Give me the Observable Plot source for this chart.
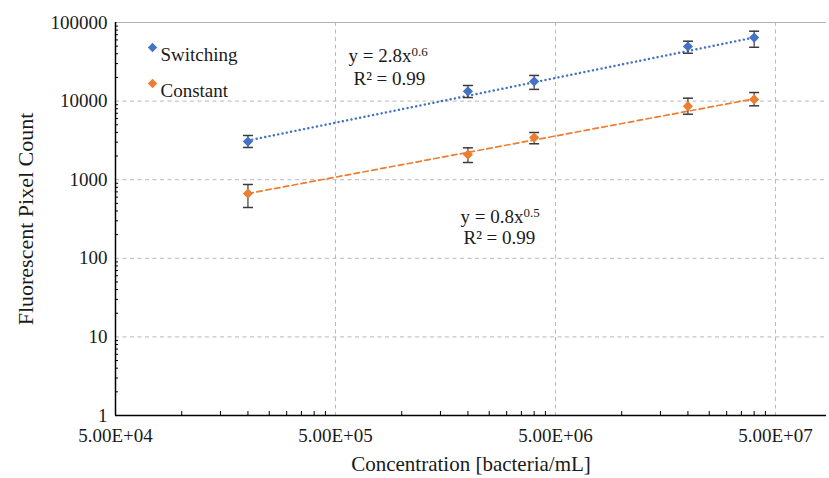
<!DOCTYPE html>
<html>
<head>
<meta charset="utf-8">
<script src="https://cdn.jsdelivr.net/npm/d3@7"></script>
<script src="https://cdn.jsdelivr.net/npm/@observablehq/plot@0.6"></script>
<style>
  html, body { margin: 0; padding: 0; background: #fff; }
  svg, svg text { font-family: "Liberation Serif", "Times New Roman", serif !important; }
</style>
</head>
<body>
<div id="chart"></div>
<script>
// ---- data ----
const concentrations = [2e5, 2e6, 4e6, 2e7, 4e7];
const switchingMean = [3060, 13300, 17800, 49500, 64400];
const switchingLow  = [2570, 11100, 14100, 40600, 48400];
const switchingHigh = [3650, 15800, 21200, 57800, 77500];
const constantMean  = [667, 2090, 3440, 8610, 10500];
const constantLow   = [443, 1655, 2865, 6810, 8710];
const constantHigh  = [869, 2545, 3985, 10890, 12860];
// trend lines (power fits drawn by the source, read at their two ends)
const trendX = [2e5, 4e7];
const switchingTrend = [3150, 64400];
const constantTrend = [667, 10700];
// axes
const xTicks = [5e4, 5e5, 5e6, 5e7];
const xTickLabels = ["5.00E+04", "5.00E+05", "5.00E+06", "5.00E+07"];
const yTicks = [1, 10, 100, 1000, 10000, 100000];
const yTickLabels = ["1", "10", "100", "1000", "10000", "100000"];
const seriesNames = ["Switching", "Constant"];
const seriesColors = ["#4472C4", "#ED7D31"];

const xMinor = [];
for (let d = 0; d < 4; d++) for (let k = 2; k <= 9; k++) {
  const v = 5e4 * Math.pow(10, d) * k;
  if (v < 8.5e7) xMinor.push(v);
}
const yMinor = [];
for (let d = 0; d < 5; d++) for (let k = 2; k <= 9; k++) yMinor.push(k * Math.pow(10, d));

const rows = [];
concentrations.forEach((c, i) => {
  rows.push({series: "Switching", x: c, y: switchingMean[i], lo: switchingLow[i], hi: switchingHigh[i]});
  rows.push({series: "Constant", x: c, y: constantMean[i], lo: constantLow[i], hi: constantHigh[i]});
});
const trendRows = {
  Switching: trendX.map((x, i) => ({x, y: switchingTrend[i]})),
  Constant: trendX.map((x, i) => ({x, y: constantTrend[i]}))
};

const cap = {
  draw(context, size) {
    const w = Math.sqrt(size / Math.PI);
    context.moveTo(-w, 0);
    context.lineTo(w, 0);
  }
};

const serif = "Liberation Serif";
const tickFont = 19;
const chart = Plot.plot({
  width: 829,
  height: 478,
  marginLeft: 115,
  marginRight: 3,
  marginTop: 22,
  marginBottom: 63,
  style: {fontFamily: serif, fontSize: "18px", color: "#1a1a1a", background: "#fff"},
  x: {type: "log", domain: [5e4, 8.53e7], axis: null},
  y: {type: "log", domain: [1, 1e5], axis: null},
  color: {domain: seriesNames, range: seriesColors},
  marks: [
    // grid
    Plot.gridX(xTicks.slice(1), {stroke: "#b8b8b8", strokeOpacity: 1, strokeDasharray: "4,3.5"}),
    Plot.gridY(yTicks.slice(1, 5), {stroke: "#b8b8b8", strokeOpacity: 1, strokeDasharray: "4,3.5"}),
    Plot.ruleY([1e5], {stroke: "#b0b0b0", strokeWidth: 1.2}),
    // minor ticks (inside)
    Plot.axisX(xMinor, {anchor: "bottom", tickSize: -4, tickFormat: () => "", label: null, stroke: "#000"}),
    Plot.axisY(yMinor, {anchor: "left", tickSize: -3, tickFormat: () => "", label: null, stroke: "#000"}),
    // major tick labels
    Plot.text(xTicks, {x: d => d, frameAnchor: "bottom", dy: 26, text: (d, i) => xTickLabels[i], fontSize: tickFont, fontFamily: serif}),
    Plot.text(yTicks, {y: d => d, frameAnchor: "left", dx: -8, textAnchor: "end", text: (d, i) => yTickLabels[i], fontSize: tickFont, fontFamily: serif}),
    // axis lines
    Plot.ruleX([5e4], {stroke: "#000", strokeWidth: 1.5}),
    Plot.ruleY([1], {stroke: "#000", strokeWidth: 1.5}),
    // trend lines
    Plot.line(trendRows.Switching, {x: "x", y: "y", stroke: seriesColors[0], strokeWidth: 2.4,
      strokeDasharray: "0.1,4.3", strokeLinecap: "round"}),
    Plot.line(trendRows.Constant, {x: "x", y: "y", stroke: seriesColors[1], strokeWidth: 1.7,
      strokeDasharray: "5.5,3.5"}),
    // error bars
    Plot.ruleX(rows, {x: "x", y1: "lo", y2: "hi", stroke: "#3a3a3a", strokeWidth: 1.2}),
    Plot.dot(rows, {x: "x", y: "lo", symbol: cap, r: 5, stroke: "#3a3a3a", strokeWidth: 1.5}),
    Plot.dot(rows, {x: "x", y: "hi", symbol: cap, r: 5, stroke: "#3a3a3a", strokeWidth: 1.5}),
    // points
    Plot.dot(rows, {x: "x", y: "y", fill: "series", symbol: "diamond2", r: 4.6, stroke: null}),
    // legend
    Plot.dot(["Switching"], {frameAnchor: "top-left", dx: 37, dy: 25, symbol: "diamond2", r: 4.2, fill: d => d}),
    Plot.dot(["Constant"], {frameAnchor: "top-left", dx: 37, dy: 61, symbol: "diamond2", r: 4.2, fill: d => d}),
    Plot.text(["Switching"], {frameAnchor: "top-left", dx: 45, dy: 25, text: d => d, textAnchor: "start", fontSize: 19, fontFamily: serif}),
    Plot.text(["Constant"], {frameAnchor: "top-left", dx: 45, dy: 61, text: d => d, textAnchor: "start", fontSize: 19, fontFamily: serif}),
    // equations
    Plot.text(["y = 2.8x^0.6"], {frameAnchor: "top-left", dx: 233, dy: 26, text: d => d, textAnchor: "start", fontSize: 19, fontFamily: serif}),
    Plot.text(["R² = 0.99"], {frameAnchor: "top-left", dx: 238, dy: 49, text: d => d, textAnchor: "start", fontSize: 19, fontFamily: serif}),
    Plot.text(["y = 0.8x^0.5"], {frameAnchor: "top-left", dx: 345, dy: 187, text: d => d, textAnchor: "start", fontSize: 19, fontFamily: serif}),
    Plot.text(["R² = 0.99"], {frameAnchor: "top-left", dx: 348, dy: 208, text: d => d, textAnchor: "start", fontSize: 19, fontFamily: serif}),
    // axis titles
    Plot.text(["Fluorescent Pixel Count"], {frameAnchor: "left", dx: -90, rotate: -90, textAnchor: "middle", text: d => d, fontSize: 22, fontFamily: serif}),
    Plot.text(["Concentration [bacteria/mL]"], {frameAnchor: "bottom", dy: 55, text: d => d, fontSize: 21, fontFamily: serif})
  ]
});

// superscripts for equation exponents
chart.querySelectorAll("text").forEach(t => {
  const s = t.textContent;
  if (s.includes("^")) {
    const [base, exp] = s.split("^");
    t.textContent = "";
    const a = document.createElementNS("http://www.w3.org/2000/svg", "tspan");
    a.textContent = base;
    const b = document.createElementNS("http://www.w3.org/2000/svg", "tspan");
    b.textContent = exp;
    b.setAttribute("dy", "-0.45em");
    b.setAttribute("font-size", "13");
    t.appendChild(a);
    t.appendChild(b);
  }
});
document.getElementById("chart").appendChild(chart);
</script>
</body>
</html>
